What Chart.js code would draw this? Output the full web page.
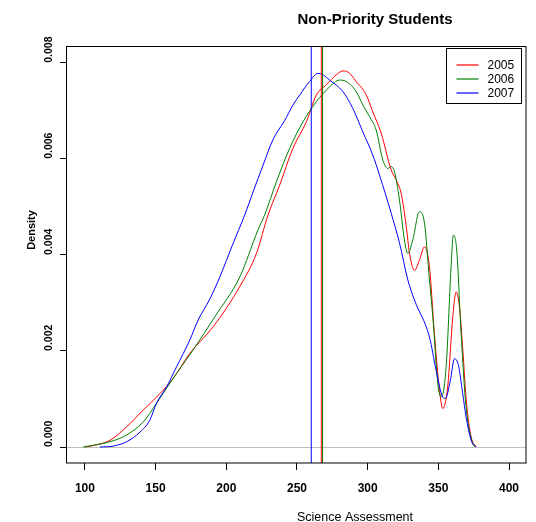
<!DOCTYPE html>
<html>
<head>
<meta charset="utf-8">
<script src="https://cdn.jsdelivr.net/npm/chart.js@4.4.1/dist/chart.umd.min.js"></script>
<style>
  html, body { margin: 0; padding: 0; background: #ffffff; }
  #wrap { width: 536px; height: 522px; }
</style>
</head>
<body>
<div id="wrap"><canvas id="c" width="536" height="522"></canvas></div>
<script>
// ---- data ----
const years = ['2005', '2006', '2007'];
const seriesColors = ['#FF0000', '#008000', '#0000FF'];
const means = [267.2, 268.1, 260.1];

const x2005 = [100, 105.9, 117.7, 129.5, 141.2, 153.0, 162.4, 174.2, 190.6, 209.5, 221.3, 229.5, 237.7, 247.1, 256.6, 263.7, 270.7, 277.8, 282.5, 286.0, 291.9, 299.0, 303.6, 309.6, 316.6, 320.2, 323.7, 327.3, 329.6, 333.1, 336.6, 340.2, 343.7, 347.2, 350.8, 353.1, 356.6, 360.2, 362.6, 364.9, 367.3, 369.7, 373.2, 376.7];
const y2005 = [0, 0.00003, 0.00014, 0.00042, 0.00077, 0.00111, 0.00143, 0.00195, 0.00250, 0.00334, 0.00403, 0.00483, 0.00545, 0.00622, 0.00677, 0.00733, 0.00754, 0.00775, 0.00783, 0.00781, 0.00761, 0.00733, 0.00698, 0.00653, 0.00577, 0.00556, 0.00528, 0.00459, 0.00403, 0.00368, 0.00389, 0.00417, 0.00375, 0.00236, 0.00118, 0.00080, 0.00125, 0.00271, 0.00323, 0.00292, 0.00202, 0.00098, 0.00021, 0];

const x2006 = [98.8, 117.7, 129.5, 141.2, 150.6, 162.4, 176.5, 191.8, 209.5, 222.4, 227.1, 235.4, 244.8, 254.2, 263.7, 273.1, 280.1, 284.9, 291.9, 296.6, 301.3, 306.0, 310.7, 314.3, 316.6, 319.0, 322.5, 326.0, 328.4, 331.9, 336.6, 340.2, 343.7, 346.1, 349.6, 352.0, 355.5, 359.0, 360.6, 363.0, 366.1, 369.6, 374.3, 376.2];
const y2006 = [0, 0.00011, 0.00025, 0.00052, 0.00091, 0.00143, 0.00202, 0.00271, 0.00354, 0.00452, 0.00483, 0.00552, 0.00622, 0.00677, 0.00719, 0.00750, 0.00764, 0.00761, 0.00740, 0.00712, 0.00688, 0.00660, 0.00598, 0.00580, 0.00584, 0.00573, 0.00514, 0.00431, 0.00403, 0.00431, 0.00490, 0.00466, 0.00348, 0.00271, 0.00132, 0.00104, 0.00167, 0.00375, 0.00441, 0.00410, 0.00236, 0.00083, 0.00007, 0];

const x2007 = [110.6, 120.0, 129.5, 138.9, 145.9, 150.6, 157.7, 164.8, 174.2, 180.0, 188.3, 195.4, 204.8, 213.0, 218.9, 226.0, 233.0, 241.3, 247.1, 251.9, 258.9, 264.8, 268.4, 273.1, 282.5, 289.5, 296.6, 303.6, 308.4, 316.6, 322.5, 328.4, 333.1, 343.7, 348.4, 353.1, 355.0, 358.5, 361.4, 364.2, 367.2, 369.6, 373.2, 376.7];
const y2007 = [0, 0.00002, 0.00011, 0.00031, 0.00056, 0.00091, 0.00125, 0.00167, 0.00223, 0.00264, 0.00308, 0.00354, 0.00424, 0.00483, 0.00531, 0.00587, 0.00640, 0.00680, 0.00712, 0.00733, 0.00761, 0.00778, 0.00775, 0.00764, 0.00740, 0.00705, 0.00656, 0.00608, 0.00566, 0.00487, 0.00425, 0.00348, 0.00306, 0.00229, 0.00160, 0.00104, 0.00101, 0.00139, 0.00184, 0.00170, 0.00112, 0.00063, 0.00014, 0];

const xTicks = [100, 150, 200, 250, 300, 350, 400];
const yTicks = [0.000, 0.002, 0.004, 0.006, 0.008];
const xRange = [87.3, 412];
const yRange = [-0.000333, 0.00835];

const titleText = 'Non-Priority Students';
const xTitle = 'Science Assessment';
const yTitle = 'Density';

// ---- build chart ----
const FONT = '"Liberation Sans", Arial, Helvetica, sans-serif';
Chart.defaults.font.family = FONT;
Chart.defaults.color = '#000000';

const xs = [x2005, x2006, x2007];
const ys = [y2005, y2006, y2007];
const curveSets = years.map((yr, i) => ({
  label: yr,
  data: xs[i].map((x, k) => ({ x: x, y: ys[i][k] })),
  borderColor: seriesColors[i],
  borderWidth: 1,
  pointRadius: 0,
  showLine: true,
  fill: false,
  cubicInterpolationMode: 'monotone',
  order: 10 - i
}));
const meanSets = means.map((m, i) => ({
  label: 'mean ' + years[i],
  data: [{ x: m, y: yRange[0] }, { x: m, y: yRange[1] }],
  borderColor: seriesColors[i],
  borderWidth: 1,
  pointRadius: 0,
  showLine: true,
  fill: false,
  order: 3 - i
}));

const decor = {
  id: 'decor',
  beforeDatasetsDraw(chart) {
    const { ctx, chartArea: a, scales } = chart;
    const y0 = Math.round(scales.y.getPixelForValue(0)) + 0.5;
    ctx.save();
    ctx.strokeStyle = '#BEBEBE';
    ctx.lineWidth = 1;
    ctx.beginPath();
    ctx.moveTo(a.left, y0);
    ctx.lineTo(a.right, y0);
    ctx.stroke();
    ctx.restore();
  },
  afterDraw(chart) {
    const { ctx, chartArea: a } = chart;
    ctx.save();
    // box
    ctx.strokeStyle = '#000000';
    ctx.lineWidth = 1;
    ctx.strokeRect(Math.round(a.left) - 0.5, Math.round(a.top) + 0.5,
                   Math.round(a.right - a.left) + 0.5, Math.round(a.bottom - a.top) - 0.5);
    // title
    ctx.fillStyle = '#000000';
    ctx.textAlign = 'center';
    ctx.textBaseline = 'alphabetic';
    ctx.font = 'bold 15px ' + FONT;
    ctx.fillText(titleText, 375, 24);
    // x axis title
    ctx.font = '12.5px ' + FONT;
    ctx.fillText(xTitle, 355, 520.5);
    // y axis title
    ctx.save();
    ctx.translate(34.5, 230);
    ctx.rotate(-Math.PI / 2);
    ctx.font = 'bold 11px ' + FONT;
    ctx.fillText(yTitle, 0, 0);
    ctx.restore();
    // legend
    ctx.strokeStyle = '#000000';
    ctx.lineWidth = 1;
    ctx.strokeRect(446.5, 48.5, 75, 55);
    const rows = [65, 79, 93];
    ctx.font = '12px ' + FONT;
    ctx.textAlign = 'left';
    ctx.textBaseline = 'middle';
    years.forEach((yr, i) => {
      ctx.beginPath();
      ctx.strokeStyle = seriesColors[i];
      ctx.lineWidth = 1.2;
      ctx.moveTo(456.5, rows[i]);
      ctx.lineTo(478.5, rows[i]);
      ctx.stroke();
      ctx.fillStyle = '#000000';
      ctx.fillText(yr, 487.5, rows[i] + 0.5);
    });
    ctx.restore();
  }
};

new Chart(document.getElementById('c'), {
  type: 'scatter',
  data: { datasets: [...meanSets, ...curveSets] },
  options: {
    responsive: false,
    animation: false,
    events: [],
    devicePixelRatio: 1,
    layout: { padding: { left: 0, top: 46, right: 10, bottom: 0 } },
    plugins: { legend: { display: false }, tooltip: { enabled: false }, title: { display: false } },
    scales: {
      x: {
        type: 'linear',
        position: 'bottom',
        min: xRange[0],
        max: xRange[1],
        afterBuildTicks: (s) => { s.ticks = xTicks.map(v => ({ value: v })); },
        ticks: {
          maxRotation: 0, minRotation: 0, autoSkip: false,
          padding: 11.5,
          color: '#000000',
          font: { size: 12, weight: 'bold', family: FONT },
          callback: (v) => String(v)
        },
        grid: { drawOnChartArea: false, drawTicks: true, tickLength: 7, color: '#000000', lineWidth: 1 },
        border: { display: false },
        afterFit: (s) => { s.height = 59; }
      },
      y: {
        type: 'linear',
        position: 'left',
        min: yRange[0],
        max: yRange[1],
        afterBuildTicks: (s) => { s.ticks = yTicks.map(v => ({ value: v })); },
        ticks: {
          minRotation: 90, maxRotation: 90, autoSkip: false,
          mirror: true,
          crossAlign: 'near',
          padding: -18,
          color: '#000000',
          font: { size: 10.5, weight: 'bold', family: FONT },
          callback: (v) => Number(v).toFixed(3)
        },
        grid: { drawOnChartArea: false, drawTicks: true, tickLength: 7, color: '#000000', lineWidth: 1 },
        border: { display: false },
        afterFit: (s) => { s.width = 67; }
      }
    }
  },
  plugins: [decor]
});
</script>
</body>
</html>
